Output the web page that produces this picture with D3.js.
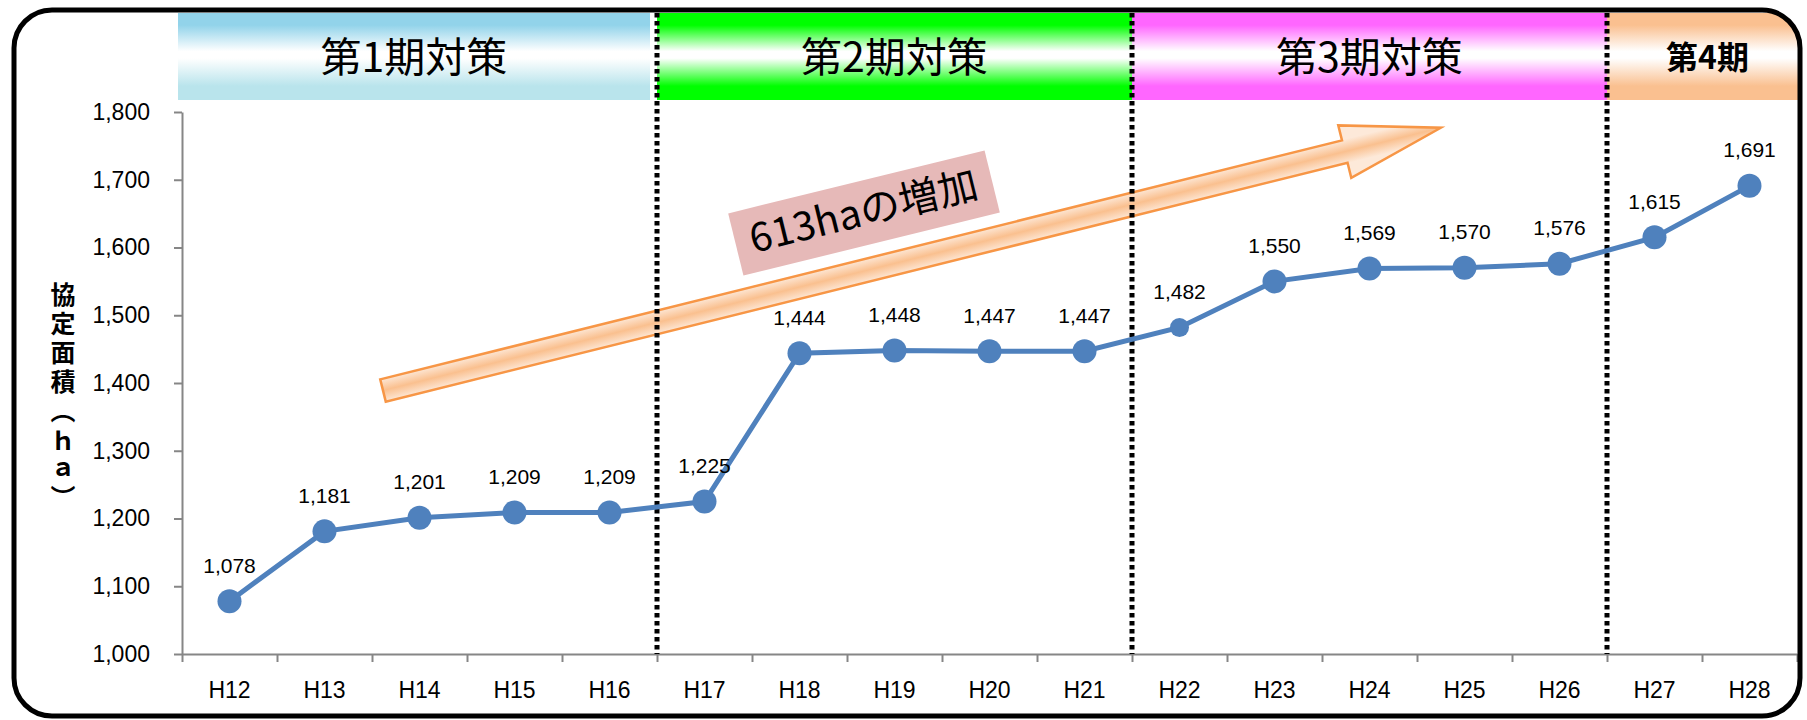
<!DOCTYPE html>
<html>
<head>
<meta charset="utf-8">
<script src="https://cdn.jsdelivr.net/npm/d3@7"></script>
<style>
  body { margin: 0; background: #fff; }
</style>
</head>
<body>
<div class="chart"></div>
<script>
let years = ["H12", "H13", "H14", "H15", "H16", "H17", "H18", "H19", "H20", "H21", "H22", "H23", "H24", "H25", "H26", "H27", "H28"]
let area = [1078, 1181, 1201, 1209, 1209, 1225, 1444, 1448, 1447, 1447, 1482, 1550, 1569, 1570, 1576, 1615, 1691]
let yTicks = [1000, 1100, 1200, 1300, 1400, 1500, 1600, 1700, 1800]
let periodNames = ["第1期対策", "第2期対策", "第3期対策", "第4期"]
let periodLengths = [5, 5, 5, 2]
let periodColors = [["#92d3ea", "#b9e4ec"], ["#00ff00", "#00ff00"], ["#ff66ff", "#ff66ff"], ["#fac090", "#fac090"]]
let increaseText = "613haの増加"
let yTitle = "協定面積（ｈａ）"

let W = 1807, H = 720
let numFont = "'Liberation Sans', Arial, sans-serif"
let jpFont = "'Noto Sans CJK JP', sans-serif"

let svg = d3.select(".chart")
  .append("svg")
  .attr("width", W)
  .attr("height", H)

let defs = svg.append("defs")

let x = d3.scaleBand().domain(years).range([182, 1797])
let xi = d3.scaleLinear().domain([0, years.length]).range([182, 1797])
let y = d3.scaleLinear().domain([1000, 1800]).range([654, 112])

// outer frame shape (also used as clip for header bands)
let frame = { x: 14, y: 10, w: 1786, h: 706, r: 38 }
defs.append("clipPath").attr("id", "frameClip")
  .append("rect")
  .attr("x", frame.x).attr("y", frame.y)
  .attr("width", frame.w).attr("height", frame.h)
  .attr("rx", frame.r)

// period boundaries (in category index)
let bounds = [0]
periodLengths.forEach(n => bounds.push(bounds[bounds.length - 1] + n))

// header bands
periodColors.forEach((c, i) => {
  let g = defs.append("linearGradient")
    .attr("id", "band" + i)
    .attr("x1", 0).attr("y1", 0).attr("x2", 0).attr("y2", 1)
  g.append("stop").attr("offset", 0).attr("stop-color", c[0])
  g.append("stop").attr("offset", 0.14).attr("stop-color", c[0])
  g.append("stop").attr("offset", 0.44).attr("stop-color", "#ffffff")
  g.append("stop").attr("offset", 0.52).attr("stop-color", "#ffffff")
  g.append("stop").attr("offset", 0.84).attr("stop-color", c[1])
  g.append("stop").attr("offset", 1).attr("stop-color", c[1])
})

let bands = svg.append("g").attr("clip-path", "url(#frameClip)")
periodNames.forEach((name, i) => {
  let x0 = xi(bounds[i]), x1 = xi(bounds[i + 1])
  if (i === 0) { x0 -= 4; x1 -= 7 }
  if (i === periodNames.length - 1) x1 = 1805
  bands.append("rect")
    .attr("x", x0).attr("y", 13)
    .attr("width", x1 - x0).attr("height", 87)
    .attr("fill", `url(#band${i})`)
  let last = i === periodNames.length - 1
  bands.append("text")
    .attr("x", last ? (x0 + 1800) / 2 + 4 : (x0 + x1) / 2)
    .attr("y", 57)
    .attr("dy", "0.36em")
    .attr("text-anchor", "middle")
    .attr("font-family", jpFont)
    .attr("font-size", last ? 32 : 41)
    .attr("font-weight", last ? "bold" : "normal")
    .attr("fill", "#000")
    .text(name)
})

// axes
let yAxis = svg.append("g")
  .attr("transform", `translate(${xi(0)},0)`)
  .call(d3.axisLeft(y).tickValues(yTicks).tickFormat(d3.format(",")).tickSize(8).tickSizeOuter(0).tickPadding(24))
yAxis.selectAll("text").attr("font-family", numFont).attr("font-size", 23).attr("fill", "#000")

let xAxis = svg.append("g")
  .attr("transform", `translate(0,${y(1000)})`)
  .call(d3.axisBottom(xi).tickValues(d3.range(years.length + 1)).tickFormat("").tickSize(8).tickSizeOuter(0))

let xLabels = svg.append("g")
  .attr("transform", `translate(0,${y(1000)})`)
  .call(d3.axisBottom(x).tickSize(0))
xLabels.select(".domain").remove()
xLabels.selectAll("text")
  .attr("y", 36).attr("dy", "0.35em")
  .attr("font-family", numFont).attr("font-size", 23).attr("fill", "#000")

svg.selectAll(".domain, .tick line").attr("stroke", "#868686").attr("stroke-width", 2)

// y title, written vertically
svg.append("text")
  .attr("x", 63).attr("y", 282)
  .attr("style", "writing-mode: vertical-rl; text-orientation: upright;")
  .attr("font-family", jpFont)
  .attr("font-size", 25)
  .attr("font-weight", "bold")
  .attr("letter-spacing", 4)
  .attr("fill", "#000")
  .text(yTitle)

// big arrow
let arrowGrad = defs.append("linearGradient")
  .attr("id", "arrowGrad")
  .attr("gradientUnits", "userSpaceOnUse")
  .attr("x1", 0).attr("y1", -12).attr("x2", 0).attr("y2", 12)
arrowGrad.append("stop").attr("offset", 0).attr("stop-color", "#fde9d9")
arrowGrad.append("stop").attr("offset", 0.5).attr("stop-color", "#fac08f")
arrowGrad.append("stop").attr("offset", 1).attr("stop-color", "#fde9d9")

let arrowPts = [[0, -11.5], [991, -11.5], [991, -27], [1090, 0], [991, 27], [991, 11.5], [0, 11.5]]
svg.append("g")
  .attr("transform", "translate(383,390.5) rotate(-13.95)")
  .append("polygon")
  .attr("points", arrowPts.map(p => p.join(",")).join(" "))
  .attr("fill", "url(#arrowGrad)")
  .attr("stroke", "#f79646")
  .attr("stroke-width", 2.5)
  .attr("stroke-linejoin", "miter")

// label box on the arrow
let box = svg.append("g").attr("transform", "translate(864,213) rotate(-13.8)")
box.append("rect")
  .attr("x", -132).attr("y", -32)
  .attr("width", 264).attr("height", 64)
  .attr("fill", "#e6b9b8")
box.append("text")
  .attr("text-anchor", "middle")
  .attr("dy", "0.36em")
  .attr("y", -2)
  .attr("font-family", jpFont)
  .attr("font-size", 40)
  .attr("fill", "#000")
  .text(increaseText)

// dotted period separators
svg.selectAll(".sep")
  .data(bounds.slice(1, -1))
  .enter()
  .append("line")
  .attr("class", "sep")
  .attr("x1", d => xi(d)).attr("x2", d => xi(d))
  .attr("y1", 13).attr("y2", y(1000))
  .attr("stroke", "#000")
  .attr("stroke-width", 5)
  .attr("stroke-dasharray", "4.5 3.5")

// data line
let pts = years.map((yr, i) => ({ year: yr, value: area[i] }))
let cx = d => x(d.year) + x.bandwidth() / 2

svg.append("path")
  .datum(pts)
  .attr("fill", "none")
  .attr("stroke", "#4f81bd")
  .attr("stroke-width", 5)
  .attr("d", d3.line().x(cx).y(d => y(d.value)))

svg.selectAll(".pt")
  .data(pts)
  .enter()
  .append("circle")
  .attr("class", "pt")
  .attr("cx", cx)
  .attr("cy", d => y(d.value))
  .attr("r", (d, i) => i === 10 ? 9.5 : 12)
  .attr("fill", "#4f81bd")

svg.selectAll(".lbl")
  .data(pts)
  .enter()
  .append("text")
  .attr("class", "lbl")
  .attr("x", cx)
  .attr("y", d => y(d.value) - 36)
  .attr("dy", "0.36em")
  .attr("text-anchor", "middle")
  .attr("font-family", numFont)
  .attr("font-size", 21)
  .attr("fill", "#000")
  .text(d => d3.format(",")(d.value))

// outer rounded frame
svg.append("rect")
  .attr("x", frame.x).attr("y", frame.y)
  .attr("width", frame.w).attr("height", frame.h)
  .attr("rx", frame.r)
  .attr("fill", "none")
  .attr("stroke", "#000")
  .attr("stroke-width", 5)
</script>
</body>
</html>
